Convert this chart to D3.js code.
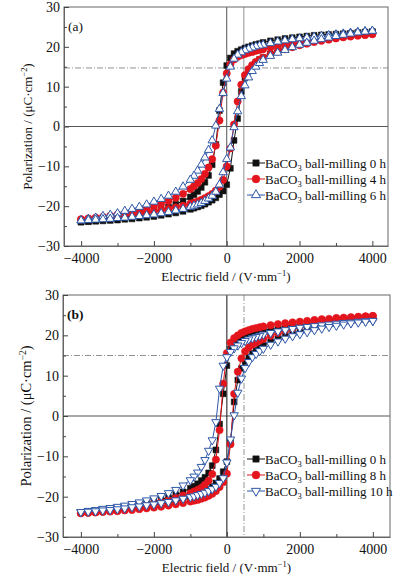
<!DOCTYPE html>
<html>
<head>
<meta charset="utf-8">
<script src="https://cdn.jsdelivr.net/npm/d3@7/dist/d3.min.js"></script>
<style>
  body { margin: 0; background: #fff; }
  text { font-family: "Liberation Serif", "Times New Roman", serif; fill: #111; }
</style>
</head>
<body>
<svg id="chart" width="396" height="574"></svg>
<script>
// electric field grid (V/mm), descending branch and ascending branch
const fieldDown = [4000, 3800, 3600, 3400, 3200, 3000, 2800, 2600, 2400, 2200, 2000, 1800, 1600, 1400, 1200, 1000,
  900, 800, 700, 600, 500, 400, 300, 200, 100, 0, -100, -200, -300, -400, -500, -600, -700, -800, -900,
  -1000, -1200, -1400, -1600, -1800, -2000, -2200, -2400, -2600, -2800, -3000, -3200, -3400, -3600, -3800, -4000];
const fieldUp = [-4000, -3800, -3600, -3400, -3200, -3000, -2800, -2600, -2400, -2200, -2000, -1800, -1600, -1400, -1200, -1000,
  -900, -800, -700, -600, -500, -400, -300, -200, -100, 0, 100, 200, 300, 400, 500, 600, 700, 800, 900,
  1000, 1200, 1400, 1600, 1800, 2000, 2200, 2400, 2600, 2800, 3000, 3200, 3400, 3600, 3800, 4000];

// panel (a)
const a0hDown = [23.8, 23.7, 23.6, 23.4, 23.3, 23.2, 23.1, 23.0, 22.9, 22.7, 22.5, 22.3, 22.1, 21.8, 21.5, 21.1,
  20.8, 20.6, 20.3, 20.0, 19.7, 19.3, 18.9, 18.3, 17.2, 15.3, 11.0, 4.0, -4.5, -9.6, -12.3, -14.0, -15.3, -16.3, -17.1,
  -17.7, -18.7, -19.5, -20.2, -20.8, -21.3, -21.7, -22.1, -22.4, -22.7, -23.0, -23.2, -23.4, -23.6, -23.8, -24.0];
const a0hUp = [-24.0, -23.9, -23.8, -23.7, -23.6, -23.5, -23.3, -23.2, -23.0, -22.8, -22.6, -22.3, -22.0, -21.7, -21.3, -20.8,
  -20.5, -20.2, -19.9, -19.5, -19.0, -18.5, -17.9, -17.1, -16.2, -14.6, -10.5, -3.5, 2.0, 8.8, 12.3, 14.0, 15.2, 16.1, 16.8,
  17.3, 18.2, 19.0, 19.7, 20.3, 20.8, 21.3, 21.7, 22.1, 22.4, 22.7, 23.0, 23.2, 23.4, 23.6, 23.8];
const a4hDown = [23.2, 23.0, 22.9, 22.7, 22.5, 22.3, 22.1, 21.9, 21.7, 21.4, 21.1, 20.8, 20.5, 20.2, 19.8, 19.4,
  19.2, 19.0, 18.7, 18.5, 18.2, 17.9, 17.5, 16.8, 15.6, 13.3, 8.5, 1.5, -4.8, -8.2, -10.3, -11.9, -13.2, -14.2, -15.0,
  -15.7, -16.9, -17.9, -18.7, -19.4, -20.0, -20.5, -21.0, -21.4, -21.8, -22.1, -22.4, -22.7, -22.9, -23.1, -23.3];
const a4hUp = [-23.3, -23.2, -23.0, -22.9, -22.7, -22.5, -22.3, -22.1, -21.8, -21.6, -21.3, -21.0, -20.7, -20.3, -19.9, -19.4,
  -19.1, -18.8, -18.4, -18.0, -17.5, -16.9, -16.1, -15.1, -13.4, -10.0, -5.5, 0.5, 6.3, 10.5, 12.9, 14.4, 15.4, 16.2, 16.8,
  17.3, 18.1, 18.8, 19.4, 19.9, 20.4, 20.8, 21.2, 21.5, 21.8, 22.1, 22.4, 22.6, 22.8, 23.0, 23.2];
const a6hDown = [24.0, 23.9, 23.7, 23.5, 23.3, 23.1, 22.9, 22.7, 22.5, 22.3, 22.1, 21.9, 21.6, 21.3, 20.9, 20.5,
  20.3, 20.1, 19.8, 19.5, 19.1, 18.6, 18.0, 17.0, 15.0, 12.0, 8.4, 4.4, 0.2, -3.5, -5.9, -7.8, -9.6, -11.1, -12.4,
  -13.4, -15.1, -16.4, -17.4, -18.2, -18.9, -19.6, -20.2, -20.7, -21.2, -21.8, -22.2, -22.5, -22.9, -23.2, -23.6];
const a6hUp = [-23.6, -23.5, -23.4, -23.3, -23.2, -23.0, -22.9, -22.7, -22.5, -22.3, -22.1, -21.8, -21.5, -21.1, -20.7, -20.2,
  -19.9, -19.6, -19.2, -18.7, -18.1, -17.4, -16.4, -14.6, -11.5, -8.2, -5.3, -0.2, 3.8, 7.6, 10.3, 12.3, 13.9, 15.0, 15.9,
  16.7, 17.7, 18.5, 19.2, 19.9, 20.5, 21.0, 21.5, 21.9, 22.3, 22.7, 23.0, 23.3, 23.6, 23.8, 24.0];

// panel (b)
const b0hDown = [24.2, 24.1, 24.0, 23.9, 23.7, 23.6, 23.4, 23.3, 23.1, 22.9, 22.7, 22.5, 22.2, 21.9, 21.6, 21.2,
  21.0, 20.7, 20.4, 20.1, 19.8, 19.4, 18.9, 18.1, 16.6, 12.5, 5.5, -2.0, -8.4, -12.3, -14.1, -15.2, -16.0, -16.8, -17.4,
  -17.9, -18.8, -19.5, -20.2, -20.7, -21.2, -21.6, -22.0, -22.3, -22.6, -22.9, -23.1, -23.3, -23.5, -23.7, -23.9];
const b0hUp = [-23.9, -23.8, -23.7, -23.6, -23.5, -23.3, -23.1, -22.9, -22.7, -22.4, -22.1, -21.8, -21.5, -21.2, -20.8, -20.3,
  -20.0, -19.7, -19.3, -18.8, -18.2, -17.5, -16.6, -15.5, -13.8, -11.3, -6.5, 3.5, 8.9, 11.8, 13.5, 14.6, 15.5, 16.3, 16.9,
  17.5, 18.4, 19.2, 19.9, 20.5, 21.0, 21.5, 21.9, 22.3, 22.7, 23.0, 23.3, 23.6, 23.8, 24.0, 24.2];
const b8hDown = [24.8, 24.7, 24.6, 24.5, 24.4, 24.3, 24.1, 24.0, 23.8, 23.6, 23.4, 23.2, 23.0, 22.8, 22.5, 22.2,
  22.0, 21.8, 21.6, 21.3, 21.0, 20.6, 20.0, 19.3, 18.2, 15.6, 8.0, -3.5, -10.8, -14.4, -16.0, -17.0, -17.8, -18.3, -18.7,
  -19.1, -19.7, -20.3, -20.9, -21.3, -21.7, -22.1, -22.5, -22.8, -23.1, -23.3, -23.5, -23.7, -23.9, -24.0, -24.1];
const b8hUp = [-24.1, -24.0, -23.9, -23.8, -23.7, -23.6, -23.4, -23.3, -23.1, -22.9, -22.7, -22.5, -22.2, -21.9, -21.6, -21.2,
  -21.0, -20.8, -20.5, -20.2, -19.8, -19.3, -18.6, -17.6, -16.4, -14.3, -7.0, 5.5, 11.0, 14.3, 16.0, 17.0, 17.7, 18.2, 18.7,
  19.1, 19.9, 20.6, 21.2, 21.7, 22.2, 22.6, 23.0, 23.3, 23.6, 23.8, 24.1, 24.3, 24.5, 24.7, 24.8];
const b10hDown = [23.6, 23.5, 23.4, 23.2, 23.1, 22.9, 22.7, 22.5, 22.3, 22.1, 21.9, 21.6, 21.3, 21.0, 20.6, 20.2,
  19.9, 19.6, 19.3, 19.0, 18.6, 18.1, 17.5, 16.8, 15.9, 14.6, 12.5, 6.8, -1.5, -6.0, -8.6, -10.9, -12.6, -14.0, -15.0,
  -15.9, -17.2, -18.3, -19.1, -19.8, -20.4, -20.9, -21.4, -21.8, -22.2, -22.5, -22.8, -23.0, -23.3, -23.5, -23.8];
const b10hUp = [-23.8, -23.7, -23.6, -23.4, -23.3, -23.1, -22.9, -22.6, -22.4, -22.1, -21.9, -21.6, -21.3, -20.9, -20.5, -20.1,
  -19.9, -19.6, -19.3, -19.0, -18.6, -18.1, -17.5, -16.6, -15.4, -11.5, -5.8, 0.2, 5.8, 9.3, 11.9, 13.4, 14.6, 15.4, 16.1,
  16.7, 17.7, 18.5, 19.2, 19.8, 20.3, 20.8, 21.3, 21.7, 22.1, 22.4, 22.7, 23.0, 23.2, 23.4, 23.6];

const xTicks = [-4000, -2000, 0, 2000, 4000];
const yTicks = [-30, -20, -10, 0, 10, 20, 30];
const legendA = ['0 h', '4 h', '6 h'];
const legendB = ['0 h', '8 h', '10 h'];

const svg = d3.select('#chart');

const styles = [
  { stroke: '#111111', fill: '#111111', symbol: d3.symbolSquare, size: 34 },
  { stroke: '#e3151d', fill: '#e3151d', symbol: d3.symbolCircle, size: 42 },
  { stroke: '#2f58a8', fill: '#ffffff', symbol: d3.symbolTriangle, size: 30 }
];

function drawPanel(cfg) {
  const x = d3.scaleLinear().domain(cfg.xDomain).range([cfg.left, cfg.right]);
  const y = d3.scaleLinear().domain([-30, 30]).range([cfg.bottom, cfg.top]);
  const g = svg.append('g');

  // reference lines
  g.append('line')
    .attr('x1', cfg.left).attr('x2', cfg.right).attr('y1', y(0)).attr('y2', y(0))
    .attr('stroke', '#555').attr('stroke-width', 1);
  g.append('line')
    .attr('x1', cfg.left).attr('x2', cfg.right).attr('y1', y(cfg.hRef)).attr('y2', y(cfg.hRef))
    .attr('stroke', '#777').attr('stroke-width', 0.8).attr('stroke-dasharray', '6,2,1,2');
  g.append('line')
    .attr('x1', x(0)).attr('x2', x(0)).attr('y1', cfg.top).attr('y2', cfg.bottom)
    .attr('stroke', cfg.zeroColor).attr('stroke-width', 1);
  g.append('line')
    .attr('x1', x(cfg.vRef)).attr('x2', x(cfg.vRef)).attr('y1', cfg.top).attr('y2', cfg.bottom)
    .attr('stroke', '#777').attr('stroke-width', 0.8)
    .attr('stroke-dasharray', cfg.vDash ? '6,2,1,2' : null);

  // frame
  g.append('rect')
    .attr('x', cfg.left).attr('y', cfg.top)
    .attr('width', cfg.right - cfg.left).attr('height', cfg.bottom - cfg.top)
    .attr('fill', 'none').attr('stroke', '#666').attr('stroke-width', 1);

  // axes, ticks pointing inward
  const xAxis = g.append('g').attr('transform', `translate(0,${cfg.bottom})`)
    .call(d3.axisBottom(x).tickValues(xTicks).tickSizeInner(-5).tickSizeOuter(0)
      .tickFormat(d => d3.format('d')(d).replace('-', '\u2212')));
  g.append('g').attr('transform', `translate(0,${cfg.bottom})`)
    .call(d3.axisBottom(x).tickValues([-3000, -1000, 1000, 3000]).tickSizeInner(-3).tickSizeOuter(0).tickFormat(''))
    .call(a => a.select('.domain').remove());
  const yAxis = g.append('g').attr('transform', `translate(${cfg.left},0)`)
    .call(d3.axisLeft(y).tickValues(yTicks).tickSizeInner(-5).tickSizeOuter(0)
      .tickFormat(d => String(d).replace('-', '\u2212')));
  g.append('g').attr('transform', `translate(${cfg.left},0)`)
    .call(d3.axisLeft(y).tickValues([-25, -15, -5, 5, 15, 25]).tickSizeInner(-3).tickSizeOuter(0).tickFormat(''))
    .call(a => a.select('.domain').remove());
  g.selectAll('.domain').attr('stroke', '#666');
  g.selectAll('.tick line').attr('stroke', '#444');
  xAxis.selectAll('text').attr('font-size', 14).attr('dy', '1.0em').attr('y', 3).attr('fill', '#222');
  yAxis.selectAll('text').attr('font-size', 14).attr('x', -4).attr('fill', '#222');

  // series
  const line = d3.line().x(d => x(d[0])).y(d => y(d[1]));
  cfg.series.forEach((s, i) => {
    const st = styles[i];
    const pts = s.down.map((v, k) => [fieldDown[k], v]).concat(s.up.map((v, k) => [fieldUp[k], v]));
    g.append('path').datum(pts)
      .attr('d', line).attr('fill', 'none').attr('stroke', st.stroke).attr('stroke-width', 1);
    const sym = d3.symbol().type(st.symbol).size(st.size);
    g.append('g').selectAll('path').data(pts).join('path')
      .attr('d', sym)
      .attr('transform', d => `translate(${x(d[0])},${y(d[1])}) rotate(${cfg.triDown && i === 2 ? 180 : 0})`)
      .attr('fill', st.fill).attr('stroke', st.stroke).attr('stroke-width', i === 2 ? 1 : 0.5);
  });

  // legend
  cfg.legend.forEach((lab, i) => {
    const st = styles[i];
    const ly = cfg.legendY + i * 16;
    g.append('line').attr('x1', 247).attr('x2', 265).attr('y1', ly).attr('y2', ly)
      .attr('stroke', st.stroke).attr('stroke-width', 1);
    g.append('path').attr('d', d3.symbol().type(st.symbol).size(st.size + 6)())
      .attr('transform', `translate(256,${ly}) rotate(${cfg.triDown && i === 2 ? 180 : 0})`)
      .attr('fill', st.fill).attr('stroke', st.stroke).attr('stroke-width', i === 2 ? 1 : 0.5);
    const t = g.append('text').attr('x', 265).attr('y', ly + 4.5).attr('font-size', 13);
    t.append('tspan').text('BaCO');
    t.append('tspan').text('3').attr('font-size', 8.5).attr('dy', 3);
    t.append('tspan').text(' ball-milling ' + lab).attr('dy', -3);
  });

  // panel tag and axis titles
  g.append('text').attr('x', cfg.left + 4).attr('y', cfg.top + 24).attr('font-size', 13.5)
    .attr('font-weight', cfg.tagBold ? 'bold' : null).text(cfg.tag);
  const xt = g.append('text').attr('x', (cfg.left + cfg.right) / 2).attr('y', cfg.bottom + 35)
    .attr('text-anchor', 'middle').attr('font-size', 13);
  xt.append('tspan').text('Electric field / (V\u00b7mm');
  xt.append('tspan').text('\u22121').attr('font-size', 8.5).attr('dy', -5);
  xt.append('tspan').text(')').attr('dy', 5);
  const yt = g.append('text')
    .attr('transform', `translate(${cfg.left - 32},${(cfg.top + cfg.bottom) / 2}) rotate(-90)`)
    .attr('text-anchor', 'middle').attr('font-size', cfg.yTitleSize);
  yt.append('tspan').text('Polarization / (\u03bcC\u00b7cm');
  yt.append('tspan').text('\u22122').attr('font-size', cfg.yTitleSize * 0.65).attr('dy', -5);
  yt.append('tspan').text(')').attr('dy', 5);
}

drawPanel({
  left: 64, right: 388, top: 7, bottom: 246, xDomain: [-4470, 4430],
  hRef: 14.7, vRef: 470, vDash: false, zeroColor: '#555', tag: '(a)', tagBold: false, triDown: false,
  yTitleSize: 13, legend: legendA, legendY: 163,
  series: [{ down: a0hDown, up: a0hUp }, { down: a4hDown, up: a4hUp }, { down: a6hDown, up: a6hUp }]
});

drawPanel({
  left: 63, right: 390, top: 295, bottom: 537, xDomain: [-4490, 4470],
  hRef: 15, vRef: 470, vDash: true, zeroColor: '#111', tag: '(b)', tagBold: true, triDown: true,
  yTitleSize: 14.5, legend: legendB, legendY: 459,
  series: [{ down: b0hDown, up: b0hUp }, { down: b8hDown, up: b8hUp }, { down: b10hDown, up: b10hUp }]
});
</script>
</body>
</html>
